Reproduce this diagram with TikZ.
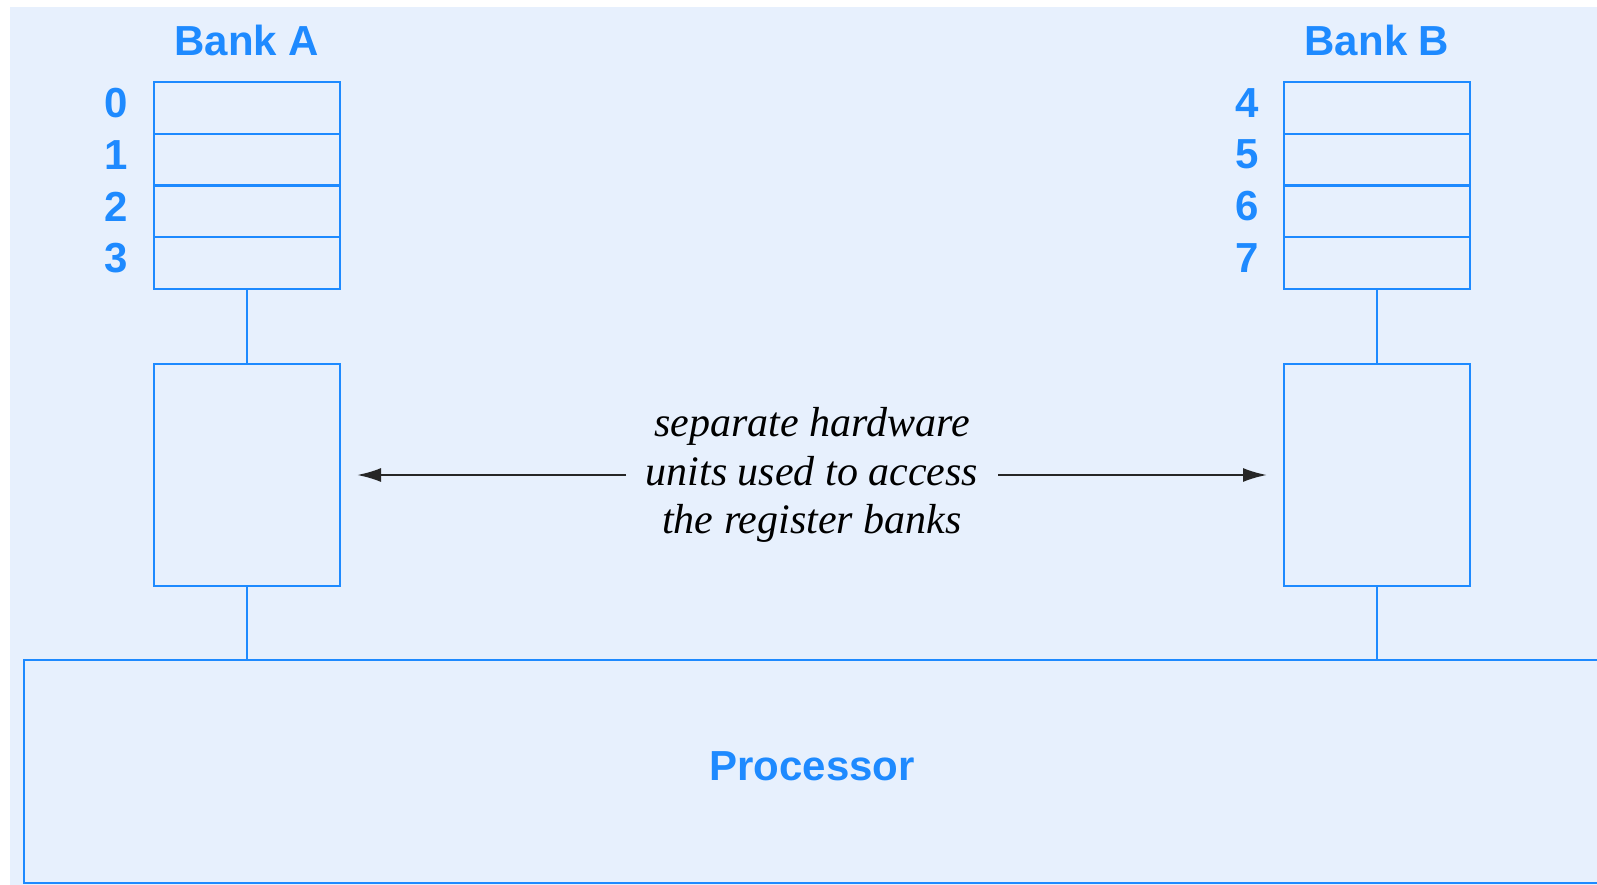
\documentclass[tikz,border=0pt]{standalone}
\usepackage{fontspec}
\setmainfont{Liberation Serif}
\newfontfamily\lsans{Liberation Sans}
\usetikzlibrary{arrows.meta}
\definecolor{bgblue}{RGB}{231,240,253}
\definecolor{lineblue}{RGB}{30,138,255}
\tikzset{
  cell/.style={draw=lineblue, line width=2.4pt, minimum width=186pt, minimum height=51.75pt, inner sep=0pt, outer sep=0pt},
  unit/.style={draw=lineblue, line width=2.4pt, minimum width=186pt, minimum height=222pt, inner sep=0pt, outer sep=0pt},
  wire/.style={draw=lineblue, line width=2.4pt},
  lbl/.style={text=lineblue, font=\lsans\bfseries\fontsize{42}{48}\selectfont, inner sep=0pt},
  desc/.style={font=\itshape\fontsize{42}{48.5}\selectfont, align=center, inner sep=0pt},
  acc/.style={draw=black!85, line width=2.2pt, -{Latex[length=24pt,width=14pt]}, shorten >=17pt}
}
\begin{document}
\begin{tikzpicture}[x=1pt,y=-1pt]
\clip (0,0) rectangle (1597,885);
\fill[white] (0,0) rectangle (1597,885);
\fill[bgblue] (10,7) rectangle (1597,885);
% Bank A
\node[lbl] (ta) at (247,40) {Bank A};
\node[cell] (a0) at (247,107.9) {};
\node[cell] (a1) at (247,159.6) {};
\node[cell] (a2) at (247,211.4) {};
\node[cell] (a3) at (247,263.1) {};
\node[lbl] (n0) at (116,103) {0};
\node[lbl] (n1) at (116,154.6) {1};
\node[lbl] (n2) at (116,206.4) {2};
\node[lbl] (n3) at (116,258.1) {3};
\node[unit] (ua) at (247,475) {};
% Bank B
\node[lbl] (tb) at (1377,40) {Bank B};
\node[cell] (b0) at (1377,107.9) {};
\node[cell] (b1) at (1377,159.6) {};
\node[cell] (b2) at (1377,211.4) {};
\node[cell] (b3) at (1377,263.1) {};
\node[lbl] (n4) at (1247,103) {4};
\node[lbl] (n5) at (1247,154.6) {5};
\node[lbl] (n6) at (1247,206.4) {6};
\node[lbl] (n7) at (1247,258.1) {7};
\node[unit] (ub) at (1377,475) {};
% Processor
\node[draw=lineblue, line width=2.8pt, minimum width=1576pt, minimum height=223pt, inner sep=0pt, outer sep=0pt] (proc) at (812,771.5) {};
\node[lbl] (ptxt) at (812,766) {Processor};
% wires
\draw[wire] (a3.south) -- (ua.north);
\draw[wire] (b3.south) -- (ub.north);
\draw[wire] (ua.south) -- (ua.south |- proc.north);
\draw[wire] (ub.south) -- (ub.south |- proc.north);
% description
\node[desc] (d) at (812,475) {separate hardware\\units used to access\\the register banks};
\coordinate (la) at (626,475);
\coordinate (ra) at (998,475);
\draw[acc] (la) -- (ua.east);
\draw[acc] (ra) -- (ub.west);
\end{tikzpicture}
\end{document}
